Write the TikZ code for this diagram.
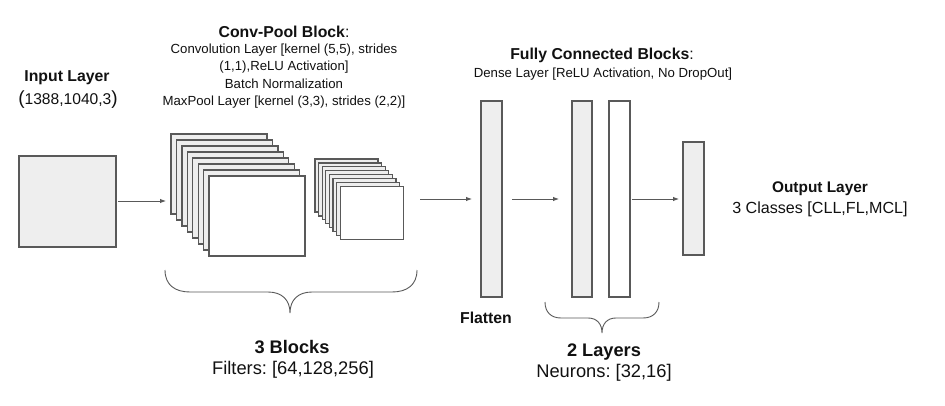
\documentclass[tikz,border=0pt]{standalone}
\usepackage{fontspec}
\setmainfont{Liberation Sans}
\usetikzlibrary{arrows.meta}
\definecolor{edgegray}{HTML}{595959}
\definecolor{fillgray}{HTML}{EEEEEE}
\definecolor{txt}{HTML}{111111}
\frenchspacing
\tikzset{
  layerbox/.style={draw=edgegray, line width=1.3pt, inner sep=0pt, outer sep=0pt, anchor=north west},
  conn/.style={draw=edgegray, line width=0.9pt, -{Latex[length=6pt,width=4.5pt]}},
  bracepath/.style={draw=edgegray, line width=0.9pt},
  headtxt/.style={text=txt, inner sep=0pt, font=\frenchspacing\fontsize{15.8}{18}\selectfont\bfseries},
  smalltxt/.style={text=txt, inner sep=0pt, align=center, font=\frenchspacing\fontsize{13.2}{17.5}\selectfont},
  bighead/.style={text=txt, inner sep=0pt, font=\frenchspacing\fontsize{18.2}{21}\selectfont\bfseries},
  bigtxt/.style={text=txt, inner sep=0pt, font=\frenchspacing\fontsize{18.3}{21}\selectfont},
}
\begin{document}
\begin{tikzpicture}[x=1pt,y=-1pt]
\useasboundingbox[fill=white] (0,0) rectangle (945,406);

% input
\node[layerbox, fill=fillgray, minimum width=97, minimum height=91] (in) at (19,156) {};

% conv stack
\foreach \i in {0,...,6}{
  \node[layerbox, fill=fillgray, minimum width=96, minimum height=80] (c\i) at ({171+\i*5.43},{134+\i*6}) {};
}
\node[layerbox, fill=white, minimum width=96, minimum height=80] (c7) at ({171+7*5.43},{134+7*6}) {};

% pool stack
\foreach \i in {0,...,6}{
  \node[layerbox, fill=fillgray, minimum width=63, minimum height=53] (s\i) at ({315+\i*3.6},{159+\i*3.9}) {};
}
\node[layerbox, fill=white, minimum width=63, minimum height=53] (s7) at ({315+7*3.6},{159+7*3.9}) {};

% flatten, dense, output
\node[layerbox, fill=fillgray, minimum width=21, minimum height=196] (fl) at (481,101) {};
\node[layerbox, fill=fillgray, minimum width=20, minimum height=196] (d1) at (572,101) {};
\node[layerbox, fill=white, minimum width=21, minimum height=196] (d2) at (609,101) {};
\node[layerbox, fill=fillgray, minimum width=21, minimum height=113] (out) at (683,142) {};

% connectors
\coordinate (a1) at (118,201);
\draw[conn, shorten >=5pt] (a1) -- (a1 -| c0.west);
\coordinate (a2) at (420,199);
\draw[conn, shorten >=9pt] (a2) -- (a2 -| fl.west);
\coordinate (a3) at (512,199);
\draw[conn, shorten >=13pt] (a3) -- (a3 -| d1.west);
\coordinate (a4) at (632,199);
\draw[conn, shorten >=4pt] (a4) -- (a4 -| out.west);

% braces
\draw[bracepath] (165,270) .. controls (165,285) and (175,292) .. (190,292) -- (268,292)
  .. controls (282,292) and (290,300) .. (290,313)
  .. controls (290,300) and (298,292) .. (312,292) -- (392,292)
  .. controls (407,292) and (417,285) .. (417,270);
\draw[bracepath] (545,302) .. controls (545,312) and (551,318) .. (561,318) -- (588,318)
  .. controls (597,318) and (602,324) .. (602,333)
  .. controls (602,324) and (607,318) .. (616,318) -- (643,318)
  .. controls (653,318) and (659,312) .. (659,302);

% texts
\node[headtxt] (tin) at (67,78) {Input Layer};
\node[text=txt, inner sep=0pt, font=\fontsize{15.6}{18}\selectfont] (tinsz) at (68,100) {{\fontsize{19}{20}\selectfont(}1388,1040,3{\fontsize{19}{20}\selectfont)}};

\node[headtxt] (tconv) at (284,32) {Conv-Pool Block\mdseries:};
\node[smalltxt] (tconvb) at (284,76) {Convolution Layer [kernel (5,5), strides\\(1,1),ReLU Activation]\\Batch Normalization\\MaxPool Layer [kernel (3,3), strides (2,2)]};

\node[headtxt] (tfc) at (602,55) {Fully Connected Blocks\mdseries:};
\node[smalltxt] (tfcb) at (603,74) {Dense Layer [ReLU Activation, No DropOut]};

\node[headtxt] (tfl) at (486,318) {Flatten};

\node[bighead] (tblk) at (292,347) {3 Blocks};
\node[bigtxt] (tfil) at (293,370) {Filters: [64,128,256]};

\node[bighead] (tlay) at (604,352) {2 Layers};
\node[bigtxt] (tneu) at (604,373) {Neurons: [32,16]};

\node[text=txt, inner sep=0pt, font=\fontsize{15.4}{18}\selectfont\bfseries] (tout) at (820,189) {Output Layer};
\node[text=txt, inner sep=0pt, font=\frenchspacing\fontsize{16.1}{18}\selectfont] (tcls) at (820,209) {3 Classes [CLL,FL,MCL]};
\end{tikzpicture}
\end{document}
